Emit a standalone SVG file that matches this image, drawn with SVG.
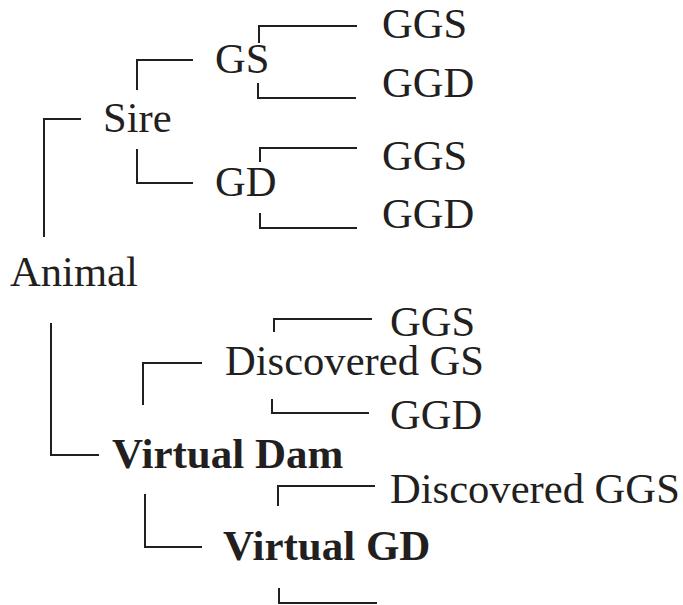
<svg xmlns="http://www.w3.org/2000/svg" width="683" height="605" viewBox="0 0 683 605">
  <style>
    .lbl { font-family: "Liberation Serif", "Times New Roman", serif; font-size: 42.6px; fill: #231f20; }
    .bold { font-weight: bold; font-size: 43px; }
    .conn path { fill: none; stroke: #231f20; stroke-width: 2; }
  </style>
  <rect width="683" height="605" fill="#ffffff"/>

  <!-- pedigree brackets -->
  <g id="connectors" class="conn">
    <!-- Animal -> Sire / Virtual Dam -->
    <path d="M44 237 V119 H81"/>
    <path d="M51 323 V455 H99"/>
    <!-- Sire -> GS / GD -->
    <path d="M137 90 V60 H193"/>
    <path d="M137 149 V183 H193"/>
    <!-- GS -> GGS / GGD -->
    <path d="M259 43 V26 H357"/>
    <path d="M258 83 V98 H356"/>
    <!-- GD -> GGS / GGD -->
    <path d="M260 162 V148 H357"/>
    <path d="M260 213 V228 H357"/>
    <!-- Virtual Dam -> Discovered GS / Virtual GD -->
    <path d="M143 405 V363 H202"/>
    <path d="M145 494 V547 H202"/>
    <!-- Discovered GS -> GGS / GGD -->
    <path d="M274 332 V319 H372"/>
    <path d="M272 399 V413 H369"/>
    <!-- Virtual GD -> Discovered GGS / unknown -->
    <path d="M278 506 V486 H375"/>
    <path d="M279 588 V603 H377"/>
  </g>

  <g id="animal"><text class="lbl" x="10" y="286">Animal</text></g>
  <g id="sire"><text class="lbl" x="103" y="132">Sire</text></g>
  <g id="gs"><text class="lbl" x="215" y="73">GS</text></g>
  <g id="gd"><text class="lbl" x="215" y="196">GD</text></g>
  <g id="ggs-1"><text class="lbl" x="382" y="38">GGS</text></g>
  <g id="ggd-1"><text class="lbl" x="382" y="97">GGD</text></g>
  <g id="ggs-2"><text class="lbl" x="382" y="170">GGS</text></g>
  <g id="ggd-2"><text class="lbl" x="382" y="228">GGD</text></g>
  <g id="virtual-dam"><text class="lbl bold" x="112" y="468">Virtual Dam</text></g>
  <g id="discovered-gs"><text class="lbl" x="225" y="375">Discovered GS</text></g>
  <g id="ggs-3"><text class="lbl" x="390" y="336">GGS</text></g>
  <g id="ggd-3"><text class="lbl" x="390" y="429">GGD</text></g>
  <g id="virtual-gd"><text class="lbl bold" x="223" y="560">Virtual GD</text></g>
  <g id="discovered-ggs"><text class="lbl" x="390" y="503">Discovered GGS</text></g>
</svg>
